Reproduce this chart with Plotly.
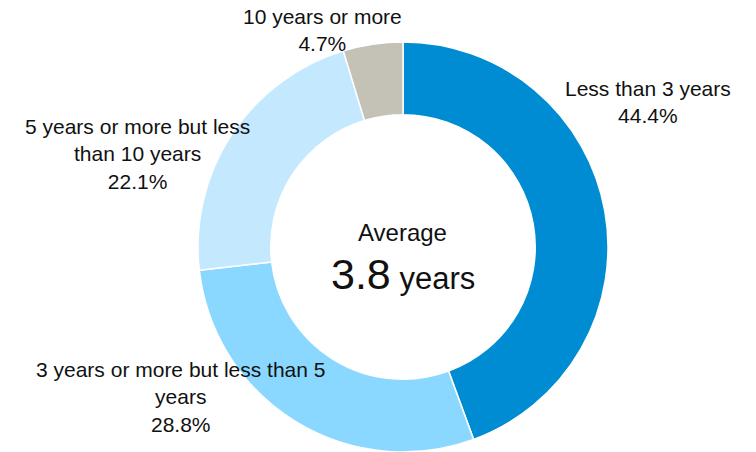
import plotly.graph_objects as go

categories = ["Less than 3 years", "3 years or more but less than 5 years",
              "5 years or more but less than 10 years", "10 years or more"]
values = [44.4, 28.8, 22.1, 4.7]
label_texts = ["Less than 3 years<br>44.4%",
               "3 years or more but less than 5<br>years<br>28.8%",
               "5 years or more but less<br>than 10 years<br>22.1%",
               "10 years or more<br>4.7%"]
colors = ["#008CD2", "#8AD8FF", "#C4E9FF", "#C4C1B6"]

W, H = 756, 452
cx, cy, r = 403, 247, 205

fig = go.Figure(go.Pie(
    labels=categories, values=values, hole=0.645, sort=False,
    direction="clockwise", rotation=0, textinfo="none", hoverinfo="label+percent",
    marker=dict(colors=colors, line=dict(color="white", width=1.5)),
    domain=dict(x=[(cx - r) / W, (cx + r) / W], y=[(H - cy - r) / H, (H - cy + r) / H]),
    showlegend=False,
))

font = dict(family="Liberation Sans, Arial, sans-serif", size=21, color="#111111")
label_pos = [(648, 102), (180, 397), (137, 154), (322, 30)]
annotations = []
for txt, (px, py) in zip(label_texts, label_pos):
    annotations.append(dict(x=px / W, y=1 - py / H, xref="paper", yref="paper",
                            text=txt, showarrow=False, xanchor="center", yanchor="middle",
                            align="center", font=font))
annotations.append(dict(x=cx / W, y=1 - 232 / H, xref="paper", yref="paper", showarrow=False,
                        xanchor="center", yanchor="middle",
                        text="Average", font=dict(family="Liberation Sans, Arial", size=24, color="#111111")))
annotations.append(dict(x=cx / W, y=1 - 274 / H, xref="paper", yref="paper", showarrow=False,
                        xanchor="center", yanchor="middle",
                        text="<span style='font-size:43px'>3.8</span> years",
                        font=dict(family="Liberation Sans, Arial", size=31, color="#111111")))

fig.update_layout(width=W, height=H, margin=dict(l=0, r=0, t=0, b=0),
                  paper_bgcolor="white", plot_bgcolor="white", annotations=annotations)
fig.write_html("out.html", config={"displayModeBar": False},
               post_script="document.body.style.margin='0';")
